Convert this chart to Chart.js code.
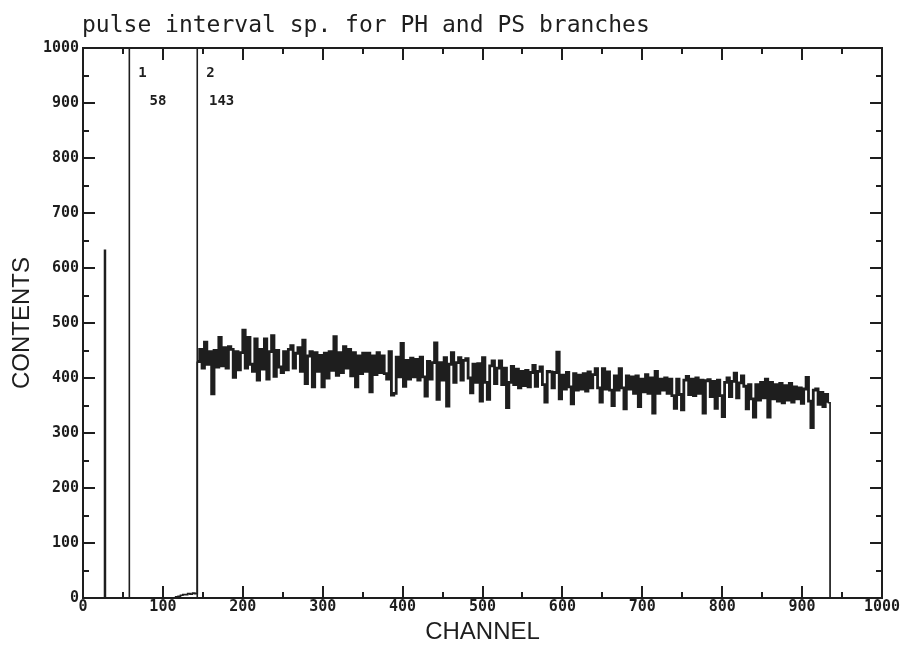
<!DOCTYPE html>
<html>
<head>
<meta charset="utf-8">
<title>pulse interval sp. for PH and PS branches</title>
<script src="https://cdn.jsdelivr.net/npm/chart.js@4/dist/chart.umd.min.js"></script>
<style>
    html, body { margin: 0; padding: 0; background: #fff; }
    canvas { display: block; }
</style>
</head>
<body>
<canvas id="spectrumChart" width="906" height="650"></canvas>
<script>
// Histogram title and axis names
const chartTitle = 'pulse interval sp. for PH and PS branches';
const xTitle = 'CHANNEL';
const yTitle = 'CONTENTS';

// Axis ranges / tick steps
const xRange = [0, 1000];
const yRange = [0, 1000];
const majorStep = 100;
const minorStep = 50;

// Markers set on the spectrum (id, channel)
const markerIds = ['1', '2'];
const markerChannels = [58, 143];

// Single narrow peak near the start
const spikeChannel = 27;
const spikeCounts = 632;

// Small shoulder just below marker 2 (3-channel bins from lowStart)
const binWidth = 3;
const lowStart = 116;
const lowCounts = [2, 3, 5, 6, 6, 8, 7, 9, 8];

// Main continuum, 3-channel bins from channel 143 up to the cut at 935
const countStart = 143;
const endChannel = 935;
const counts = [
    430, 452, 418, 465, 425, 448, 371, 450, 420, 474,
    422, 455, 418, 457, 452, 401, 448, 415, 446, 487,
    418, 474, 425, 412, 471, 396, 452, 416, 471, 398,
    448, 477, 403, 450, 420, 410, 448, 415, 452, 459,
    418, 445, 455, 412, 469, 390, 440, 448, 384, 446,
    412, 441, 384, 445, 400, 448, 414, 475, 405, 446,
    410, 457, 418, 452, 404, 446, 384, 440, 408, 445,
    412, 445, 375, 440, 406, 446, 410, 440, 408, 398,
    448, 369, 372, 438, 402, 463, 385, 432, 398, 436,
    402, 434, 396, 438, 402, 367, 430, 398, 428, 464,
    361, 428, 396, 437, 349, 425, 446, 392, 428, 437,
    396, 432, 435, 400, 373, 425, 392, 426, 358, 437,
    392, 361, 422, 431, 390, 418, 431, 388, 418, 346,
    392, 421, 388, 416, 382, 412, 386, 414, 384, 410,
    423, 385, 412, 420, 388, 356, 412, 411, 382, 410,
    447, 362, 405, 380, 410, 384, 353, 408, 378, 405,
    380, 408, 376, 411, 382, 406, 417, 382, 356, 417,
    380, 411, 378, 350, 404, 378, 417, 382, 344, 404,
    380, 402, 372, 404, 348, 398, 375, 406, 372, 400,
    336, 412, 372, 398, 378, 400, 372, 398, 368, 345,
    398, 370, 342, 396, 403, 370, 398, 368, 400, 372,
    396, 336, 395, 397, 366, 394, 345, 396, 368, 330,
    392, 400, 366, 394, 409, 364, 391, 404, 385, 344,
    388, 362, 329, 388, 360, 392, 364, 398, 329, 392,
    362, 388, 358, 390, 355, 386, 360, 390, 356, 384,
    362, 382, 354, 380, 401, 358, 310, 378, 380, 352,
    374, 348, 370, 355
];

const ink = '#1e1e1e';
const monoFont = '"DejaVu Sans Mono", "Liberation Mono", monospace';

// Build the step histogram (each point is the left edge of its bin)
function buildSpectrum() {
    const pts = [{ x: xRange[0], y: 0 }];
    pts.push({ x: spikeChannel, y: spikeCounts });
    pts.push({ x: spikeChannel + 1, y: 0 });
    lowCounts.forEach((v, i) => pts.push({ x: lowStart + i * binWidth, y: v }));
    counts.forEach((v, i) => pts.push({ x: countStart + i * binWidth, y: v }));
    pts.push({ x: endChannel, y: 0 });
    pts.push({ x: xRange[1], y: 0 });
    return pts;
}

// Frame, inward tick marks, title and marker captions
const plotDecor = {
    id: 'plotDecor',
    afterDraw(chart) {
        const { ctx, chartArea: a, scales: { x, y } } = chart;
        ctx.save();
        ctx.strokeStyle = ink;
        ctx.lineWidth = 2;
        ctx.strokeRect(a.left, a.top, a.right - a.left, a.bottom - a.top);

        ctx.beginPath();
        for (let v = xRange[0] + minorStep; v < xRange[1]; v += minorStep) {
            const px = Math.round(x.getPixelForValue(v));
            const len = v % majorStep === 0 ? 12 : 6;
            ctx.moveTo(px, a.bottom); ctx.lineTo(px, a.bottom - len);
            ctx.moveTo(px, a.top); ctx.lineTo(px, a.top + len);
        }
        for (let v = yRange[0] + minorStep; v < yRange[1]; v += minorStep) {
            const py = Math.round(y.getPixelForValue(v));
            const len = v % majorStep === 0 ? 12 : 6;
            ctx.moveTo(a.left, py); ctx.lineTo(a.left + len, py);
            ctx.moveTo(a.right, py); ctx.lineTo(a.right - len, py);
        }
        ctx.stroke();

        ctx.fillStyle = ink;
        ctx.font = '23px ' + monoFont;
        ctx.textAlign = 'left';
        ctx.textBaseline = 'alphabetic';
        ctx.fillText(chartTitle, 82, 32);

        ctx.font = 'bold 14px ' + monoFont;
        markerChannels.forEach((ch, i) => {
            const px = x.getPixelForValue(ch);
            ctx.textAlign = 'left';
            ctx.fillText(markerIds[i], px + 9, a.top + 29);
            ctx.textAlign = 'right';
            ctx.fillText(String(ch), px + 37, a.top + 57);
        });
        ctx.restore();
    }
};

const tickFont = { family: monoFont, size: 15, weight: 'bold' };
const titleFont = { family: '"Liberation Sans", Arial, sans-serif', size: 24 };
const plainNumber = (value) => String(value);

// thin stroke where the trace sits on / leaves the zero line, heavy in the dense band
const segmentWidth = (c) => (c.p0.parsed.y < 100 || c.p1.parsed.y < 100 ? 1.7 : 2.8);

const ctx = document.getElementById('spectrumChart').getContext('2d');
const chart = new Chart(ctx, {
    type: 'line',
    data: {
        datasets: [
            {
                label: 'spectrum',
                data: buildSpectrum(),
                stepped: 'before',
                borderColor: ink,
                borderWidth: 2.8,
                segment: { borderWidth: segmentWidth },
                pointRadius: 0,
                fill: false
            },
            ...markerChannels.map((ch, i) => ({
                label: 'marker ' + markerIds[i],
                data: [{ x: ch, y: yRange[0] }, { x: ch, y: yRange[1] }],
                borderColor: ink,
                borderWidth: 1.6,
                pointRadius: 0,
                fill: false
            }))
        ]
    },
    options: {
        responsive: false,
        animation: false,
        layout: { padding: { top: 48, right: 24, left: 0, bottom: 0 } },
        plugins: {
            legend: { display: false },
            tooltip: { enabled: false }
        },
        scales: {
            x: {
                type: 'linear',
                min: xRange[0],
                max: xRange[1],
                afterFit: (s) => { s.height = 52; },
                grid: { display: false, drawTicks: false },
                border: { display: false },
                ticks: { stepSize: majorStep, padding: 0, color: ink, font: tickFont, maxRotation: 0, autoSkip: false, callback: plainNumber },
                title: { display: true, text: xTitle, color: ink, font: titleFont, padding: { top: 0, bottom: 3 } }
            },
            y: {
                min: yRange[0],
                max: yRange[1],
                afterFit: (s) => { s.width = 83; },
                grid: { display: false, drawTicks: false },
                border: { display: false },
                ticks: { stepSize: majorStep, padding: 4, color: ink, font: tickFont, callback: plainNumber },
                title: { display: true, text: yTitle, color: ink, font: titleFont, padding: { top: 8, bottom: 0 } }
            }
        }
    },
    plugins: [plotDecor]
});
</script>
</body>
</html>
